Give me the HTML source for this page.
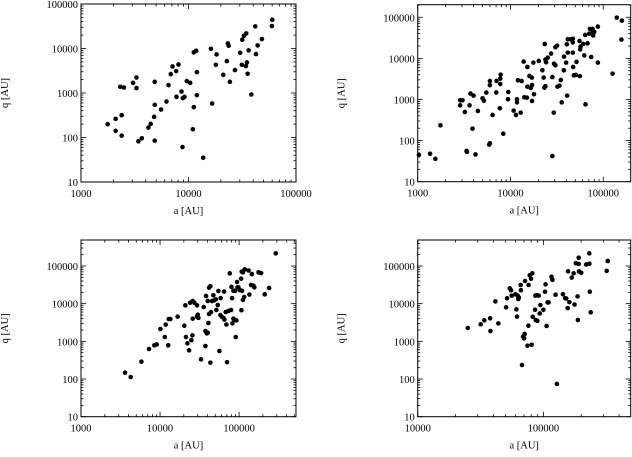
<!DOCTYPE html>
<html><head><meta charset="utf-8"><style>
html,body{margin:0;padding:0;background:#fff;}
svg{display:block;}
text{font-family:"Liberation Serif",serif;font-size:10.5px;fill:#000;}
</style></head><body>
<svg id="chart" width="632" height="457" viewBox="0 0 632 457" xmlns="http://www.w3.org/2000/svg"></svg>
<script>
// Panel 1 (top-left)
const aTL=[1770,2100,2100,2390,2390,2320,2510,3050,3280,3280,3420,3680,4240,4450,4790,4850,4850,4850,5560,6240,6520,6840,7100,7680,7730,8070,8610,8790,8850,9180,9640,10370,10970,11200,11200,11780,11960,11960,13700,16170,16600,17970,18240,21050,22750,23240,23610,24280,27040,30300,31400,31620,32800,34460,34200,34960,35480,36260,38380,41800,42400,43950,48200,59700,60200];
const qTL=[199,262,141,317,110,1380,1330,1690,2230,1290,82,96,167,202,291,542,85,1780,425,644,1500,2660,3950,3100,820,4380,1080,61,765,820,1850,1690,153,480,8160,8900,2950,894,35,9870,580,4310,7360,2560,5210,13000,11530,1780,3270,8020,4310,15740,19360,21860,4020,4860,2700,9060,925,31400,7490,11730,16300,32000,44400];
// Panel 2 (top-right)
const aTR=[1030,1360,1550,1760,2870,2870,3040,3220,3360,3400,3620,3710,3900,4000,4200,4450,5000,5170,5490,6410,5900,6000,6000,6000,7030,7080,7690,7760,7760,7830,8370,9400,9480,10820,11460,11750,11750,12050,12880,13200,13880,14100,15070,15200,15200,16000,16520,17080,17080,17660,17000,17950,20200,22100,22800,23200,23400,23800,23800,24200,25200,27400,28300,28300,29300,29500,30500,30500,31800,32100,33700,34900,35700,37600,37800,39800,40500,40800,41500,41500,44700,47000,47000,47400,47000,48200,50700,51500,56000,55500,56900,56500,60800,62400,63800,64400,67800,70600,71800,74200,76700,76700,78000,80000,87500,87500,126000,140000,157000,159000];
const qTR=[45,48,36,235,721,955,955,497,56,53,721,1390,195,1240,46,525,1070,937,1470,420,80,86,2820,2220,1480,2820,610,2380,3210,4020,147,1010,1520,535,420,1010,850,2930,478,2800,8340,1130,1110,6180,2050,3730,1900,919,2250,7880,3400,1340,8650,5130,3400,1940,22400,9330,2100,8030,10400,13050,3500,42,478,7450,6800,18600,20400,2050,2170,2980,853,5130,11000,7880,22000,1240,13800,29100,29100,24500,13800,6180,30000,3870,3950,8200,3700,26500,19300,16500,22400,11800,37100,762,23200,40000,52000,10800,52000,42000,36000,44000,59300,7900,4250,98000,28600,83000];
// Panel 3 (bottom-left)
const aBL=[3610,4250,5810,7260,8470,9080,10100,11500,11800,12700,12880,13500,16700,20300,20900,21300,22200,23300,24000,24900,25700,25900,25900,27200,29400,29400,30000,30600,33000,35700,37500,37500,38200,39000,40100,40100,40900,41700,41700,43300,43300,44200,45500,47300,48300,50700,51600,53700,54700,56300,58000,58400,60400,63400,64600,65200,67700,69100,70500,73300,76200,79200,80000,81500,82400,84800,84800,87300,89000,90700,92500,94300,95500,98100,102000,106000,107000,108000,109000,112000,112000,116000,118000,135000,132000,142000,145000,152000,156000,176000,190000,211000,240000,291000];
const qBL=[147,113,289,626,783,830,2120,1300,2770,783,3920,3920,4520,2600,9040,1300,885,577,10600,1080,1440,11800,4000,10600,9040,4500,5100,4200,333,8160,752,1880,16000,1630,1700,11800,3070,5320,26600,272,29000,6000,11700,16700,12200,13000,6800,9200,21700,554,5000,14000,4500,4200,21000,3800,6000,2800,280,6400,63900,6800,28000,14000,3000,4000,22000,3700,22000,1300,3600,37600,27000,27000,23000,46100,6700,70700,22000,68000,12500,15000,81600,17500,76000,31300,61000,30000,27000,68000,65000,17700,26100,217000];
// Panel 4 (bottom-right)
const aBR=[25000,31700,33900,37700,37900,41500,43800,50500,51400,54000,55300,56000,59900,61000,61700,62500,63200,63800,66300,66000,68900,70200,71000,71400,74700,76000,76300,77800,80700,79800,81600,67600,82200,85900,86900,86300,88500,91800,89500,93500,94700,100000,103000,104000,106000,108000,110000,116000,118000,125000,128000,143000,149000,152000,156000,157000,161000,168000,174000,177000,181000,187000,188000,191000,191000,192000,200000,219000,232000,234000,232000,238000,319000,325000];
const qBR=[2260,2830,3610,4080,1880,11500,3000,8000,13900,25500,22800,16300,17800,7070,4520,16300,13300,14600,22800,31300,1330,1200,1570,40000,767,2600,31300,56500,810,46000,63900,235,4500,6900,3680,16300,16800,16300,3500,5500,9200,6900,20800,32600,2560,10800,10800,52000,43000,17300,74,17800,14000,13700,7600,72100,11000,49000,63900,9500,118000,15600,3680,166000,113000,72000,66000,110000,115000,20800,217000,5890,74000,136000];

const xTicksTL=[1000,10000,100000];
const yTicks=[10,100,1000,10000,100000];
const xTicksTR=[1000,10000,100000];
const xTicksBL=[1000,10000,100000];
const xTicksBR=[10000,100000];

const NS="http://www.w3.org/2000/svg";
const svg=document.getElementById('chart');
function mk(tag,attrs,parent){const e=document.createElementNS(NS,tag);for(const k in attrs)e.setAttribute(k,attrs[k]);(parent||svg).appendChild(e);return e;}

function panel(name,px0,px1,py0,py1,xmin,xmax,ymin,ymax,xs,ys,xt){
  const g=mk('g',{});
  
  
  const lx0=Math.log10(xmin),lx1=Math.log10(xmax),ly0=Math.log10(ymin),ly1=Math.log10(ymax);
  const X=v=>px0+(Math.log10(v)-lx0)/(lx1-lx0)*(px1-px0);
  const Y=v=>py1-(Math.log10(v)-ly0)/(ly1-ly0)*(py1-py0);
  const frame=mk('rect',{x:px0,y:py0,width:px1-px0,height:py1-py0,fill:'none',stroke:'#000','stroke-width':1},g);
  
  
  for(let d=Math.floor(lx0);d<=Math.ceil(lx1);d++){
    for(let m=1;m<10;m++){const v=m*Math.pow(10,d);const lv=Math.log10(v);if(lv<lx0-1e-9||lv>lx1+1e-9)continue;
      const x=X(v),L=m===1?5:2.5;
      mk('line',{x1:x,x2:x,y1:py1,y2:py1-L,stroke:'#000','stroke-width':0.8},g);
      mk('line',{x1:x,x2:x,y1:py0,y2:py0+L,stroke:'#000','stroke-width':0.8},g);}
  }
  for(let d=Math.floor(ly0);d<=Math.ceil(ly1);d++){
    for(let m=1;m<10;m++){const v=m*Math.pow(10,d);const lv=Math.log10(v);if(lv<ly0-1e-9||lv>ly1+1e-9)continue;
      const y=Y(v),L=m===1?5:2.5;
      mk('line',{x1:px0,x2:px0+L,y1:y,y2:y,stroke:'#000','stroke-width':0.8},g);
      mk('line',{x1:px1,x2:px1-L,y1:y,y2:y,stroke:'#000','stroke-width':0.8},g);}
  }
  xt.forEach(v=>{const t=mk('text',{x:X(v),y:py1+15,'text-anchor':'middle'},g);t.textContent=v;
    
    });
  yTicks.forEach(v=>{const t=mk('text',{x:px0-3,y:Y(v)+4,'text-anchor':'end'},g);t.textContent=v;
    
    });
  const xl=mk('text',{x:(px0+px1)/2,y:py1+32,'text-anchor':'middle'},g);xl.textContent='a [AU]';
  
  
  const yx=px0-73,yy=(py0+py1)/2;
  const yl=mk('text',{x:yx,y:yy,'text-anchor':'middle',transform:`rotate(-90 ${yx} ${yy})`},g);yl.textContent='q [AU]';
  
  
  for(let i=0;i<xs.length;i++){
    const c=mk('circle',{cx:X(xs[i]),cy:Y(ys[i]),r:2.3,fill:'#000'},g);
    
    
  }
}
panel('panel-top-left',81,296,4,182,1000,100000,10,100000,aTL,qTL,xTicksTL);
panel('panel-top-right',417.7,630.7,4.7,181.7,1000,197700,10,202000,aTR,qTR,xTicksTR);
panel('panel-bottom-left',81,296,240,416.7,1000,525000,10,490000,aBL,qBL,xTicksBL);
panel('panel-bottom-right',417.7,630.7,240,416.7,10000,495000,10,490000,aBR,qBR,xTicksBR);
</script>
</body></html>
